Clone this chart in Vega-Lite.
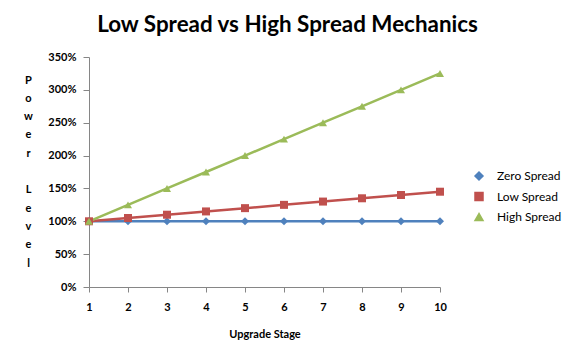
{
  "$schema": "https://vega.github.io/schema/vega-lite/v6.json",
  "autosize": "none",
  "width": 351,
  "height": 230,
  "padding": {"left": 89, "top": 57, "right": 137, "bottom": 73},
  "background": "white",
  "config": {
    "font": "Lato",
    "view": {"stroke": null},
    "axis": {"grid": false, "domainColor": "#868686", "tickColor": "#868686", "labelFont": "Lato", "labelFontWeight": "bold", "labelFontSize": 11, "labelColor": "#000000", "titleFont": "Lato", "titleFontWeight": "bold", "titleFontSize": 11, "titleColor": "#000000"}
  },
  "title": {"text": "Low Spread vs High Spread Mechanics", "fontSize": 22.4, "font": "Lato", "fontWeight": "bold", "color": "#000000", "anchor": "middle", "dx": 23, "offset": 15},
  "data": {"values": [
    {"stage": 1, "series": "Zero Spread", "value": 1.0},
    {"stage": 2, "series": "Zero Spread", "value": 1.0},
    {"stage": 3, "series": "Zero Spread", "value": 1.0},
    {"stage": 4, "series": "Zero Spread", "value": 1.0},
    {"stage": 5, "series": "Zero Spread", "value": 1.0},
    {"stage": 6, "series": "Zero Spread", "value": 1.0},
    {"stage": 7, "series": "Zero Spread", "value": 1.0},
    {"stage": 8, "series": "Zero Spread", "value": 1.0},
    {"stage": 9, "series": "Zero Spread", "value": 1.0},
    {"stage": 10, "series": "Zero Spread", "value": 1.0},
    {"stage": 1, "series": "Low Spread", "value": 1.0},
    {"stage": 2, "series": "Low Spread", "value": 1.05},
    {"stage": 3, "series": "Low Spread", "value": 1.1},
    {"stage": 4, "series": "Low Spread", "value": 1.15},
    {"stage": 5, "series": "Low Spread", "value": 1.2},
    {"stage": 6, "series": "Low Spread", "value": 1.25},
    {"stage": 7, "series": "Low Spread", "value": 1.3},
    {"stage": 8, "series": "Low Spread", "value": 1.35},
    {"stage": 9, "series": "Low Spread", "value": 1.4},
    {"stage": 10, "series": "Low Spread", "value": 1.45},
    {"stage": 1, "series": "High Spread", "value": 1.0},
    {"stage": 2, "series": "High Spread", "value": 1.25},
    {"stage": 3, "series": "High Spread", "value": 1.5},
    {"stage": 4, "series": "High Spread", "value": 1.75},
    {"stage": 5, "series": "High Spread", "value": 2.0},
    {"stage": 6, "series": "High Spread", "value": 2.25},
    {"stage": 7, "series": "High Spread", "value": 2.5},
    {"stage": 8, "series": "High Spread", "value": 2.75},
    {"stage": 9, "series": "High Spread", "value": 3.0},
    {"stage": 10, "series": "High Spread", "value": 3.25}
  ]},
  "encoding": {
    "x": {"field": "stage", "type": "quantitative", "scale": {"domain": [1, 10], "nice": false, "zero": false},
      "axis": {"values": [1,2,3,4,5,6,7,8,9,10], "format": "d", "title": "Upgrade Stage", "tickSize": 5, "labelPadding": 9, "titlePadding": 16, "labelFlush": false}},
    "y": {"field": "value", "type": "quantitative", "scale": {"domain": [0, 3.5], "nice": false},
      "axis": {"values": [0, 0.5, 1, 1.5, 2, 2.5, 3, 3.5], "format": ".0%", "tickSize": 6, "labelPadding": 7,
        "title": ["P", "o", "w", "e", "r", "\u200b", "L", "e", "v", "e", "l"], "titleAngle": 0, "titleAlign": "center", "titleBaseline": "top", "titleX": -61, "titleY": 17, "titleLineHeight": 18.3, "titleFontSize": 11}},
    "color": {"field": "series", "type": "nominal",
      "scale": {"domain": ["Zero Spread", "Low Spread", "High Spread"], "range": ["#4F81BD", "#C0504D", "#9BBB59"]},
      "legend": {"title": null, "orient": "none", "legendX": 384, "legendY": 113, "symbolSize": 64, "labelFont": "Lato", "labelFontSize": 12, "labelColor": "#000000", "labelOffset": 12, "rowPadding": 6.5}
    }
  },
  "layer": [
    {"mark": {"type": "line", "strokeWidth": 2.5}},
    {"mark": {"type": "point", "filled": true, "opacity": 1, "size": 64},
      "encoding": {"shape": {"field": "series", "type": "nominal", "scale": {"domain": ["Zero Spread", "Low Spread", "High Spread"], "range": ["diamond", "square", "triangle-up"]}, "legend": null}}}
  ]
}
